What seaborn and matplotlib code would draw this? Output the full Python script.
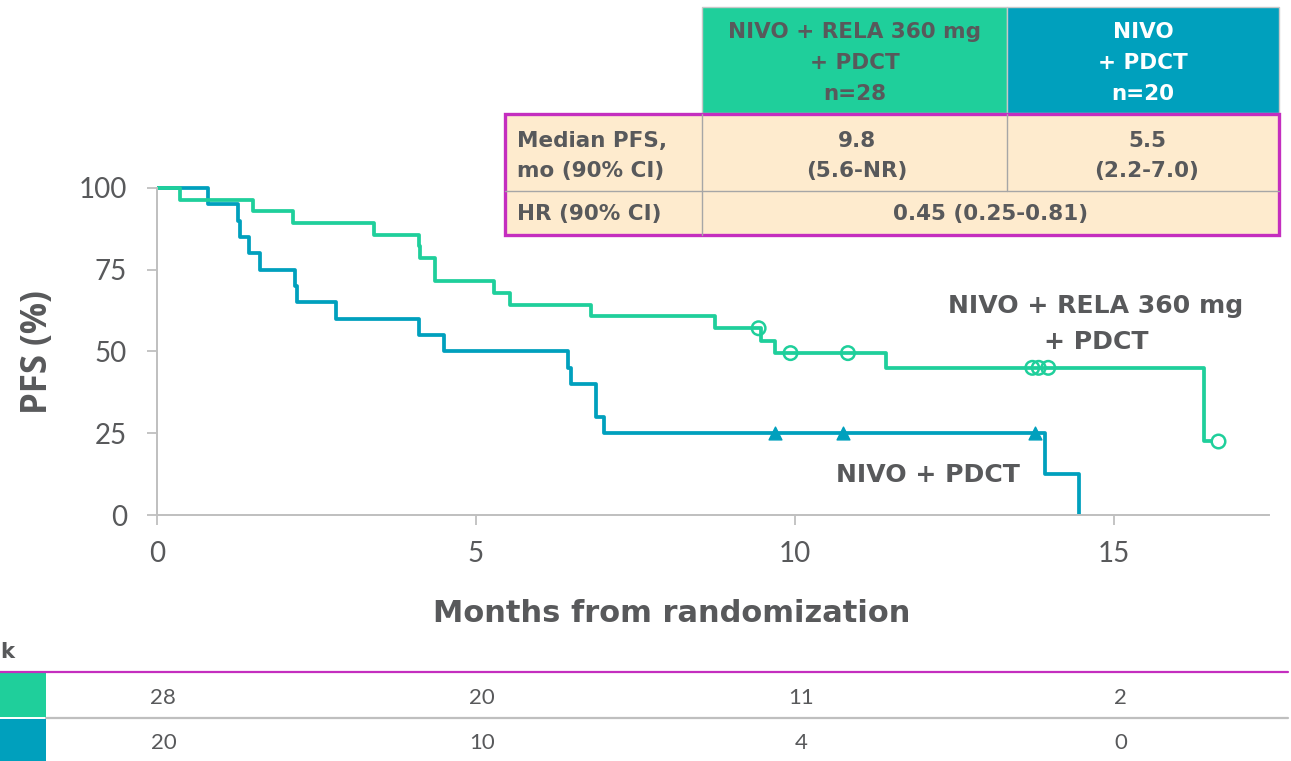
"""Kaplan-Meier PFS chart: NIVO + RELA 360 mg + PDCT vs NIVO + PDCT."""

import matplotlib

matplotlib.use("Agg")

import matplotlib.pyplot as plt
import pandas as pd
import seaborn as sns
from matplotlib.lines import Line2D
from matplotlib.patches import Rectangle
from matplotlib.transforms import blended_transform_factory

GREEN = "#1FCF9B"
BLUE = "#00A0BD"
TEXT = "#58595B"
MAGENTA = "#C42EBF"
PEACH = "#FEEBCE"
GRID = "#A6A6A6"
SPINE = "#BFBFBF"

BOLD_FONT = "DejaVu Sans"
YLABEL_FONT = "Open Sans"
LIGHT_FONT = "Lato"

# Step curves (months, PFS %)
RELA_TIMES = [0, 0.36, 1.50, 2.13, 3.40, 4.11, 4.13, 4.36, 5.28, 5.54, 6.80,
              8.74, 9.47, 9.69, 11.43, 16.41, 16.63]
RELA_PFS = [100, 96.4, 92.9, 89.3, 85.7, 82.1, 78.6, 71.4, 67.9, 64.3, 60.7,
            57.1, 53.3, 49.5, 45.0, 22.5, 22.5]
RELA_CENSOR_T = [9.43, 9.93, 10.83, 13.72, 13.82, 13.97]
RELA_CENSOR_PFS = [57.1, 49.5, 49.5, 45.0, 45.0, 45.0]
RELA_LAST_CENSOR_T = [16.63]
RELA_LAST_CENSOR_PFS = [22.5]

NIVO_TIMES = [0, 0.80, 1.27, 1.30, 1.44, 1.61, 2.16, 2.20, 2.80, 4.10, 4.50,
              6.44, 6.49, 6.88, 7.01, 13.92, 14.45]
NIVO_PFS = [100, 95, 90, 85, 80, 75, 70, 65, 60, 55, 50,
            45, 40, 30, 25, 12.5, 0]
NIVO_CENSOR_T = [9.68, 10.75, 13.77]
NIVO_CENSOR_PFS = [25, 25, 25]

X_TICKS = [0, 5, 10, 15]
Y_TICKS = [0, 25, 50, 75, 100]

RISK_TIMES = [0, 5, 10, 15]
RISK_RELA = [28, 20, 11, 2]
RISK_NIVO = [20, 10, 4, 0]

HEADER_RELA = "NIVO + RELA 360 mg\n+ PDCT\nn=28"
HEADER_NIVO = "NIVO\n+ PDCT\nn=20"
ROW_LABELS = ["Median PFS,\nmo (90% CI)", "HR (90% CI)"]
MEDIAN_RELA = "9.8\n(5.6-NR)"
MEDIAN_NIVO = "5.5\n(2.2-7.0)"
HR_TEXT = "0.45 (0.25-0.81)"

W, H = 1291, 761


def fx(x):
    return x / W


def fy(y):
    return 1 - y / H


def fig_rect(fig, x0, y0, x1, y1, **kw):
    fig.add_artist(Rectangle((fx(x0), fy(y1)), (x1 - x0) / W, (y1 - y0) / H,
                             transform=fig.transFigure, **kw))


def fig_line(fig, x0, y0, x1, y1, **kw):
    fig.add_artist(Line2D([fx(x0), fx(x1)], [fy(y0), fy(y1)],
                          transform=fig.transFigure, **kw))


def bold_text(x, y, s, size=15.5, color=TEXT, **kw):
    fig.text(fx(x), fy(y), s, fontsize=size, fontweight="bold", color=color,
             fontfamily=BOLD_FONT, va="center", **kw)


sns.set_theme(style="white")
plt.rcParams["font.family"] = [BOLD_FONT]

fig = plt.figure(figsize=(W / 100, H / 100), dpi=100)
ax = fig.add_axes([fx(157), 1 - 515 / H, (1269 - 157) / W, 343.4 / H])

rela = pd.DataFrame({"t": RELA_TIMES, "pfs": RELA_PFS})
nivo = pd.DataFrame({"t": NIVO_TIMES, "pfs": NIVO_PFS})

sns.lineplot(data=nivo, x="t", y="pfs", drawstyle="steps-post", estimator=None,
             color=BLUE, linewidth=2.7, ax=ax)
sns.lineplot(data=rela, x="t", y="pfs", drawstyle="steps-post", estimator=None,
             color=GREEN, linewidth=2.7, ax=ax)

sns.scatterplot(x=NIVO_CENSOR_T, y=NIVO_CENSOR_PFS, marker="^", s=85,
                color=BLUE, edgecolor=BLUE, linewidth=1, ax=ax, zorder=5)
sns.scatterplot(x=RELA_CENSOR_T, y=RELA_CENSOR_PFS, marker="o", s=95,
                facecolor="none", edgecolor=GREEN, linewidth=1.8, ax=ax, zorder=5)
sns.scatterplot(x=RELA_LAST_CENSOR_T, y=RELA_LAST_CENSOR_PFS, marker="o", s=95,
                facecolor="white", edgecolor=GREEN, linewidth=1.8, ax=ax, zorder=5)

ax.set_xlim(0, 17.43)
ax.set_ylim(0, 105)
ax.set_xticks(X_TICKS)
ax.set_yticks(Y_TICKS)
for side in ("top", "right"):
    ax.spines[side].set_visible(False)
for side in ("left", "bottom"):
    ax.spines[side].set_color(SPINE)
    ax.spines[side].set_linewidth(1.4)
ax.spines["left"].set_bounds(0, 100)
ax.tick_params(axis="both", direction="out", length=7.5, width=1.3, color=SPINE,
               labelsize=20, labelcolor=TEXT, bottom=True, left=True)
ax.tick_params(axis="y", pad=14)
ax.tick_params(axis="x", pad=11)
for lab in ax.get_xticklabels() + ax.get_yticklabels():
    lab.set_fontfamily(LIGHT_FONT)
    lab.set_fontweight("normal")

ax.set_xlabel("Months from randomization", fontsize=22, fontweight="bold",
              color=TEXT)
ax.xaxis.set_label_coords(0.463, (515 - 613) / 343.4)
ax.xaxis.label.set_va("center")
ax.set_ylabel("PFS (%)", fontsize=25, fontweight="bold", color=TEXT,
              fontfamily=YLABEL_FONT)
ax.yaxis.set_label_coords((37.5 - 157) / 1112, (515 - 352) / 343.4)
ax.yaxis.label.set_va("center")

# curve labels
ax.text(14.72, 58.4, "NIVO + RELA 360 mg\n+ PDCT", ha="center", va="center",
        fontsize=18.1, fontweight="bold", color=TEXT, linespacing=1.67)
ax.text(12.08, 12.2, "NIVO + PDCT", ha="center", va="center",
        fontsize=18.1, fontweight="bold", color=TEXT)

# summary table
fig_rect(fig, 702, 6.7, 1007, 113, facecolor=GREEN, edgecolor="#C8C8C8", lw=1)
fig_rect(fig, 1007, 6.7, 1279, 113, facecolor=BLUE, edgecolor="#C8C8C8", lw=1)
fig_rect(fig, 505, 114, 1279, 234.5, facecolor=PEACH, edgecolor="none")
fig_line(fig, 505, 190.7, 1279, 190.7, color=GRID, lw=1)
fig_line(fig, 702, 114, 702, 234.5, color=GRID, lw=1)
fig_line(fig, 1007, 114, 1007, 190.7, color=GRID, lw=1)
fig_rect(fig, 505, 114, 1279, 234.5, facecolor="none", edgecolor=MAGENTA, lw=2.4)

bold_text(854.5, 63.3, HEADER_RELA, ha="center", linespacing=1.7)
bold_text(1143, 63.3, HEADER_NIVO, ha="center", linespacing=1.7, color="white")
bold_text(517, 155.8, ROW_LABELS[0], ha="left", linespacing=1.62)
bold_text(517, 214, ROW_LABELS[1], ha="left")
bold_text(857, 155.8, MEDIAN_RELA, ha="center", linespacing=1.62)
bold_text(1147, 155.8, MEDIAN_NIVO, ha="center", linespacing=1.62)
bold_text(991, 214, HR_TEXT, ha="center")

# number at risk
bold_text(0, 652, "k", size=15.2, ha="left")
fig_line(fig, 0, 671.7, 1288, 671.7, color=MAGENTA, lw=1.6)
fig_line(fig, 46, 717.7, 1288, 717.7, color=SPINE, lw=1.6)
fig_rect(fig, 0, 672.7, 46, 717, facecolor=GREEN, edgecolor="none")
fig_rect(fig, 0, 718.5, 46, 761, facecolor=BLUE, edgecolor="none")

risk_tf = blended_transform_factory(ax.transData, fig.transFigure)
for t, n1, n2 in zip(RISK_TIMES, RISK_RELA, RISK_NIVO):
    for n, y in ((n1, 698.3), (n2, 743.3)):
        ax.text(t + 0.1, fy(y), str(n), transform=risk_tf, ha="center",
                va="center", fontsize=16, color=TEXT, clip_on=False,
                fontfamily=LIGHT_FONT, fontweight="normal")

fig.savefig("out.png", dpi=100)
